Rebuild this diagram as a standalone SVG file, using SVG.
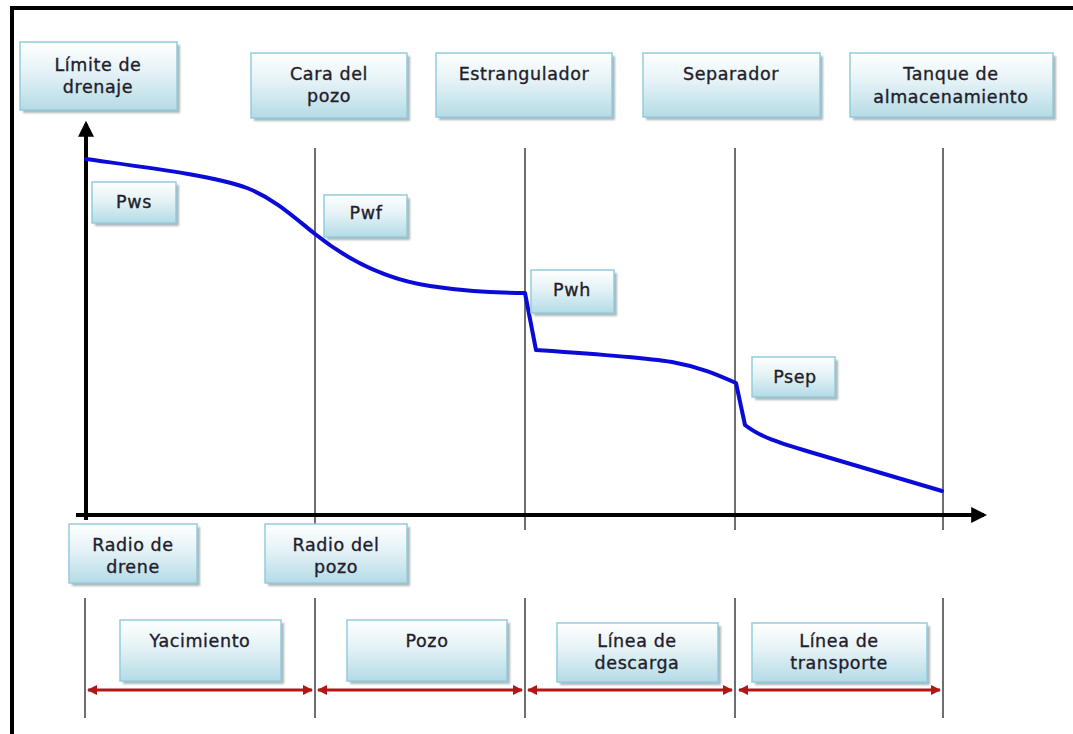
<svg xmlns="http://www.w3.org/2000/svg" width="1073" height="734" viewBox="0 0 1073 734">
  <defs>
    <linearGradient id="boxFill" x1="0" y1="0" x2="0" y2="1">
      <stop offset="0" stop-color="#ffffff"/>
      <stop offset="0.45" stop-color="#e4f2f6"/>
      <stop offset="1" stop-color="#b4dbe6"/>
    </linearGradient>
    <filter id="soft" x="-10%" y="-10%" width="130%" height="140%">
      <feGaussianBlur stdDeviation="1.2"/>
    </filter>
    <marker id="axisHead" viewBox="0 0 10 10" refX="8" refY="5" markerWidth="4" markerHeight="4" orient="auto" markerUnits="strokeWidth">
      <path d="M0,0 L10,5 L0,10 z" fill="#000"/>
    </marker>
    <marker id="redHead" viewBox="0 0 10 10" refX="9" refY="5" markerWidth="3.5" markerHeight="3.5" orient="auto-start-reverse" markerUnits="strokeWidth">
      <path d="M0,0 L10,5 L0,10 z" fill="#b01818"/>
    </marker>
  </defs>
  <style>
    .shadow { fill: #8f9ea4; opacity: 0.75; }
    .box { fill: url(#boxFill); stroke: #92cddc; stroke-width: 1.5; }
    .lbl { font-family: "DejaVu Sans", "Liberation Sans", sans-serif; font-size: 17.5px; letter-spacing: 0.6px; fill: #241c2a; stroke: #241c2a; stroke-width: 0.35; text-anchor: middle; }
    .grid { stroke: #6e6e6e; stroke-width: 2; fill: none; }
    .axis { stroke: #000; stroke-width: 4; fill: none; }
    .span { stroke: #b01818; stroke-width: 3; fill: none; }
    .curve { stroke: #0b0bd8; stroke-width: 4; fill: none; stroke-linejoin: round; stroke-linecap: round; }
  </style>

  <rect width="1073" height="734" fill="#ffffff"/>

  <!-- frame -->
  <path d="M12,734 L12,8 L1073,8" fill="none" stroke="#000" stroke-width="4"/>

  <!-- connectors: station lines, axes, pressure curve, span arrows -->
  <g id="connectors">
    <line class="grid" x1="315" y1="148" x2="315" y2="524"/>
    <line class="grid" x1="525" y1="148" x2="525" y2="530"/>
    <line class="grid" x1="735" y1="148" x2="735" y2="530"/>
    <line class="grid" x1="943" y1="148" x2="943" y2="530"/>

    <line class="grid" x1="85" y1="598" x2="85" y2="718"/>
    <line class="grid" x1="315" y1="598" x2="315" y2="718"/>
    <line class="grid" x1="525" y1="598" x2="525" y2="718"/>
    <line class="grid" x1="735" y1="598" x2="735" y2="718"/>
    <line class="grid" x1="943" y1="598" x2="943" y2="718"/>

    <line class="axis" x1="86" y1="520" x2="86" y2="124" marker-end="url(#axisHead)"/>
    <line class="axis" x1="76" y1="515" x2="984" y2="515" marker-end="url(#axisHead)"/>

    <path class="curve" d="M86,159 C150,168 215,176 247,188 C275,199 295,218 315,234 C350,262 390,280 430,286 C470,292 500,293 525,293 L536,350 C580,353 640,357 672,362 C700,367 718,375 736,383 L745,425 C760,437 780,443 810,452 L942,491"/>

    <line class="span" x1="88" y1="690" x2="312" y2="690" marker-start="url(#redHead)" marker-end="url(#redHead)"/>
    <line class="span" x1="318" y1="690" x2="522" y2="690" marker-start="url(#redHead)" marker-end="url(#redHead)"/>
    <line class="span" x1="528" y1="690" x2="732" y2="690" marker-start="url(#redHead)" marker-end="url(#redHead)"/>
    <line class="span" x1="739" y1="690" x2="940" y2="690" marker-start="url(#redHead)" marker-end="url(#redHead)"/>
  </g>

  <!-- station labels along the top -->
  <g id="limite-drenaje">
    <rect class="shadow" x="23" y="45" width="157" height="68" filter="url(#soft)"/>
    <rect class="box" x="20" y="42" width="157" height="68"/>
    <text class="lbl" x="98" y="71">Límite de</text>
    <text class="lbl" x="98" y="93">drenaje</text>
  </g>
  <g id="cara-pozo">
    <rect class="shadow" x="254" y="56" width="156" height="65" filter="url(#soft)"/>
    <rect class="box" x="251" y="53" width="156" height="65"/>
    <text class="lbl" x="329" y="80">Cara del</text>
    <text class="lbl" x="329" y="102">pozo</text>
  </g>
  <g id="estrangulador">
    <rect class="shadow" x="439" y="56" width="176" height="64" filter="url(#soft)"/>
    <rect class="box" x="436" y="53" width="176" height="64"/>
    <text class="lbl" x="524" y="80">Estrangulador</text>
  </g>
  <g id="separador">
    <rect class="shadow" x="646" y="56" width="177" height="64" filter="url(#soft)"/>
    <rect class="box" x="643" y="53" width="177" height="64"/>
    <text class="lbl" x="731" y="80">Separador</text>
  </g>
  <g id="tanque">
    <rect class="shadow" x="853" y="56" width="203" height="64" filter="url(#soft)"/>
    <rect class="box" x="850" y="53" width="203" height="64"/>
    <text class="lbl" x="951" y="80">Tanque de</text>
    <text class="lbl" x="951" y="103">almacenamiento</text>
  </g>

  <!-- pressure labels -->
  <g id="pws">
    <rect class="shadow" x="95" y="185" width="84" height="41" filter="url(#soft)"/>
    <rect class="box" x="92" y="182" width="84" height="41"/>
    <text class="lbl" x="134" y="208">Pws</text>
  </g>
  <g id="pwf">
    <rect class="shadow" x="327" y="198" width="83" height="42" filter="url(#soft)"/>
    <rect class="box" x="324" y="195" width="83" height="42"/>
    <text class="lbl" x="366" y="219">Pwf</text>
  </g>
  <g id="pwh">
    <rect class="shadow" x="534" y="273" width="83" height="43" filter="url(#soft)"/>
    <rect class="box" x="531" y="270" width="83" height="43"/>
    <text class="lbl" x="572" y="296">Pwh</text>
  </g>
  <g id="psep">
    <rect class="shadow" x="755" y="360" width="83" height="40" filter="url(#soft)"/>
    <rect class="box" x="752" y="357" width="83" height="40"/>
    <text class="lbl" x="795" y="383">Psep</text>
  </g>

  <!-- radius labels under the axis -->
  <g id="radio-drene">
    <rect class="shadow" x="72" y="527" width="128" height="59" filter="url(#soft)"/>
    <rect class="box" x="69" y="524" width="128" height="59"/>
    <text class="lbl" x="133" y="551">Radio de</text>
    <text class="lbl" x="133" y="573">drene</text>
  </g>
  <g id="radio-pozo">
    <rect class="shadow" x="268" y="527" width="142" height="59" filter="url(#soft)"/>
    <rect class="box" x="265" y="524" width="142" height="59"/>
    <text class="lbl" x="336" y="551">Radio del</text>
    <text class="lbl" x="336" y="573">pozo</text>
  </g>

  <!-- segment labels -->
  <g id="yacimiento">
    <rect class="shadow" x="123" y="623" width="161" height="61" filter="url(#soft)"/>
    <rect class="box" x="120" y="620" width="161" height="61"/>
    <text class="lbl" x="200" y="647">Yacimiento</text>
  </g>
  <g id="pozo">
    <rect class="shadow" x="350" y="623" width="160" height="61" filter="url(#soft)"/>
    <rect class="box" x="347" y="620" width="160" height="61"/>
    <text class="lbl" x="427" y="647">Pozo</text>
  </g>
  <g id="linea-descarga">
    <rect class="shadow" x="560" y="626" width="161" height="59" filter="url(#soft)"/>
    <rect class="box" x="557" y="623" width="161" height="59"/>
    <text class="lbl" x="637" y="647">Línea de</text>
    <text class="lbl" x="637" y="669">descarga</text>
  </g>
  <g id="linea-transporte">
    <rect class="shadow" x="755" y="626" width="175" height="59" filter="url(#soft)"/>
    <rect class="box" x="752" y="623" width="175" height="59"/>
    <text class="lbl" x="839" y="647">Línea de</text>
    <text class="lbl" x="839" y="669">transporte</text>
  </g>
</svg>
